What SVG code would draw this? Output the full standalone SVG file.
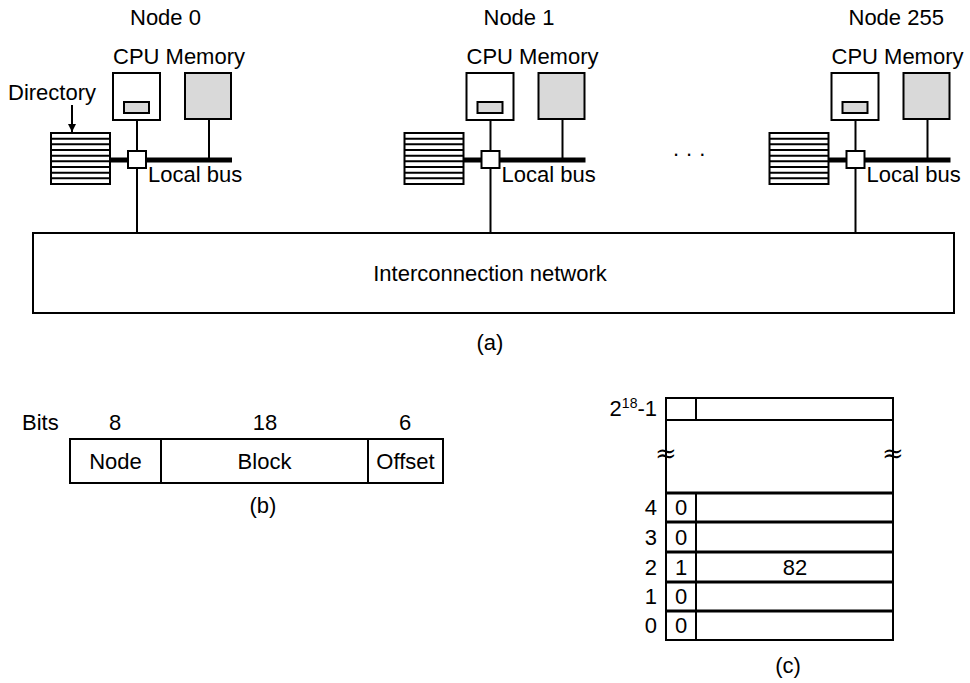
<svg xmlns="http://www.w3.org/2000/svg" width="970" height="683" viewBox="0 0 970 683">
<defs>
<style>
text{font-family:"Liberation Sans",Arial,sans-serif;font-size:22px;fill:#000}
.ln{stroke:#000;stroke-width:2;fill:none}
.box{stroke:#000;stroke-width:2;fill:#fff}
.gray{stroke:#000;stroke-width:2;fill:#d9d9d9}
.bus{stroke:#000;stroke-width:5}
.mid{text-anchor:middle}
.end{text-anchor:end}
.thick{stroke:#000;stroke-width:3;fill:none}
.wave{font-family:"DejaVu Serif",serif;font-size:26px;text-anchor:middle}
</style>
<marker id="ah" markerWidth="8" markerHeight="10" refX="8" refY="5" orient="auto" markerUnits="userSpaceOnUse">
<path d="M0,1 L8,5 L0,9 z" fill="#000"/>
</marker>
<g id="dir">
<rect x="51" y="133" width="59" height="51" class="box"/>
<path class="ln" d="M51,138.7H110M51,144.3H110M51,150H110M51,155.7H110M51,161.3H110M51,167H110M51,172.7H110M51,178.3H110"/>
</g>
<g id="node">
<rect x="113" y="73" width="47" height="47" class="box"/>
<rect x="124" y="102" width="25" height="11" class="gray"/>
<rect x="185" y="73" width="46" height="46" class="gray"/>
<line x1="110" y1="160" x2="232" y2="160" class="bus"/>
<line x1="137" y1="120" x2="137" y2="233" class="ln"/>
<line x1="209" y1="119" x2="209" y2="160" class="ln"/>
<use href="#dir"/>
<rect x="128" y="151" width="18" height="17" class="box"/>
<text x="113" y="64">CPU Memory</text>
<text x="148" y="182">Local bus</text>
</g>
</defs>

<g id="node0">
<use href="#node"/>
<text x="130" y="25">Node 0</text>
<text x="8" y="100">Directory</text>
</g>
<g id="node1" transform="translate(353.5,0)">
<use href="#node"/>
<text x="130" y="25">Node 1</text>
</g>
<g id="node255" transform="translate(718.5,0)">
<use href="#node"/>
<text x="130" y="25">Node 255</text>
</g>
<g id="connectors">
<line x1="72" y1="105" x2="72" y2="132" class="ln" marker-end="url(#ah)"/>
</g>
<text x="673" y="156" letter-spacing="7">...</text>

<g id="network">
<rect x="33" y="233" width="921" height="80" class="box"/>
<text x="490" y="281" class="mid">Interconnection network</text>
</g>
<text x="490" y="350" class="mid">(a)</text>

<g id="address">
<text x="22" y="430">Bits</text>
<text x="115" y="430" class="mid">8</text>
<text x="265" y="430" class="mid">18</text>
<text x="405" y="430" class="mid">6</text>
<rect x="70" y="439" width="373" height="44" class="box"/>
<line x1="161" y1="439" x2="161" y2="483" class="ln"/>
<line x1="368" y1="439" x2="368" y2="483" class="ln"/>
<text x="115.5" y="469" class="mid">Node</text>
<text x="264.5" y="469" class="mid">Block</text>
<text x="405.5" y="469" class="mid">Offset</text>
<text x="263" y="513" class="mid">(b)</text>
</g>

<g id="directory-table">
<rect x="666" y="398" width="227" height="242" class="box"/>
<line x1="696" y1="398" x2="696" y2="420" class="ln"/>
<line x1="666" y1="420" x2="893" y2="420" class="ln"/>
<path class="thick" d="M666,493H893M666,522H893M666,552H893M666,582H893M666,611H893"/>
<line x1="696" y1="493" x2="696" y2="640" class="ln"/>
<text x="657" y="416" class="end">2<tspan font-size="14" dy="-8">18</tspan><tspan dy="8">-1</tspan></text>
<text x="666" y="462" class="wave">≈</text>
<text x="893" y="462" class="wave">≈</text>
<text x="657" y="515" class="end">4</text>
<text x="657" y="545" class="end">3</text>
<text x="657" y="575" class="end">2</text>
<text x="657" y="604" class="end">1</text>
<text x="657" y="633" class="end">0</text>
<text x="681" y="515" class="mid">0</text>
<text x="681" y="545" class="mid">0</text>
<text x="681" y="575" class="mid">1</text>
<text x="681" y="604" class="mid">0</text>
<text x="681" y="633" class="mid">0</text>
<text x="795" y="575" class="mid">82</text>
<text x="788" y="673" class="mid">(c)</text>
</g>
</svg>
